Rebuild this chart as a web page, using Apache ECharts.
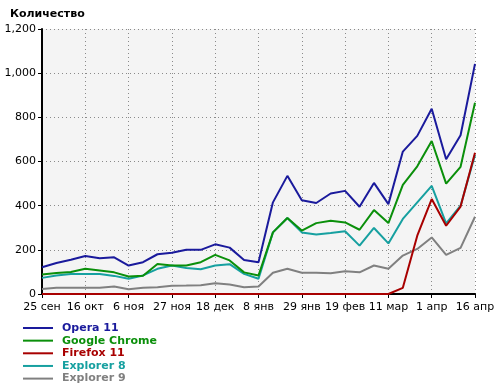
<!DOCTYPE html>
<html>
<head>
<meta charset="utf-8">
<script src="https://cdn.jsdelivr.net/npm/echarts@6/dist/echarts.min.js"></script>
<style>html,body{margin:0;padding:0;background:#fff;}#c{width:500px;height:389px;}</style>
</head>
<body>
<div id="c"></div>
<script>
const categories = ["25 сен","2 окт","9 окт","16 окт","23 окт","30 окт","6 ноя","13 ноя","20 ноя","27 ноя","4 дек","11 дек","18 дек","25 дек","1 янв","8 янв","15 янв","22 янв","29 янв","5 фев","12 фев","19 фев","26 фев","4 мар","11 мар","18 мар","25 мар","1 апр","6 апр","11 апр","16 апр"];
const opera = [121,140,155,172,162,166,129,144,180,187,200,200,225,210,154,144,415,535,425,412,455,467,395,503,407,645,716,839,610,719,1042];
const chrome = [88,95,100,114,106,98,79,83,136,129,129,144,177,152,98,84,279,344,287,321,332,324,291,380,321,494,578,693,500,576,866];
const firefox = [0,0,0,0,0,0,0,0,0,0,0,0,0,0,0,0,0,0,0,0,0,0,0,0,0,28,264,430,309,396,640];
const explorer8 = [73,84,91,91,91,82,69,84,114,129,118,112,129,135,91,69,279,344,279,269,276,284,219,299,229,340,415,490,320,400,630];
const explorer9 = [23,28,28,28,28,34,22,28,31,37,38,40,49,43,31,34,96,114,96,96,94,103,98,129,114,174,204,256,177,209,350];
const yTicks = [0,200,400,600,800,1000,1200];

const FONT = 'DejaVu Sans';
const colors = {
  'Opera 11': '#1a1a9c',
  'Google Chrome': '#0a8f0a',
  'Firefox 11': '#a80000',
  'Explorer 8': '#16a0a0',
  'Explorer 9': '#808080'
};
function ser(name, data) {
  return {
    name: name, type: 'line', data: data, showSymbol: false, symbol: 'none',
    lineStyle: {color: colors[name], width: 2}, itemStyle: {color: colors[name]},
    animation: false
  };
}
const chart = echarts.init(document.getElementById('c'), null, {renderer: 'canvas'});
chart.setOption({
  animation: false,
  backgroundColor: '#ffffff',
  title: {
    text: 'Количество', left: 5, top: 4,
    textStyle: {fontFamily: FONT, fontSize: 11, fontWeight: 'bold', color: '#000'}
  },
  grid: {
    left: 42, right: 25, top: 29, height: 265,
    show: true, backgroundColor: '#f4f4f4', borderWidth: 0
  },
  legend: {
    orient: 'vertical', left: 23, top: 322, height: 67, padding: 0,
    itemWidth: 30, itemHeight: 2, itemGap: 0.65, icon: 'rect',
    textStyle: {fontFamily: FONT, fontSize: 11, fontWeight: 'bold', lineHeight: 12, padding: [0,0,0,4]},
    data: ['Opera 11','Google Chrome','Firefox 11','Explorer 8','Explorer 9'].map(n => ({
      name: n, textStyle: {color: colors[n]}, itemStyle: {color: colors[n]}
    }))
  },
  xAxis: {
    type: 'category', data: categories, boundaryGap: false,
    axisLine: {show: true, lineStyle: {color: '#000', width: 2}},
    axisTick: {show: true, interval: 2, length: 4, lineStyle: {color: '#000', width: 1}},
    axisLabel: {interval: 2, color: '#000', fontFamily: FONT, fontSize: 11, margin: 8},
    splitLine: {show: true, interval: 2, lineStyle: {color: '#8a8a8a', type: [1,3], width: 1}}
  },
  yAxis: {
    type: 'value', min: yTicks[0], max: yTicks[yTicks.length-1], interval: 200,
    axisLine: {show: true, lineStyle: {color: '#000', width: 2}},
    axisTick: {show: true, length: 4, lineStyle: {color: '#000', width: 1}},
    axisLabel: {color: '#000', fontFamily: FONT, fontSize: 11, margin: 6,
      formatter: v => v.toLocaleString('en-US')},
    splitLine: {show: true, lineStyle: {color: '#8a8a8a', type: [1,3], width: 1}}
  },
  series: [
    ser('Explorer 9', explorer9),
    ser('Explorer 8', explorer8),
    ser('Google Chrome', chrome),
    ser('Opera 11', opera),
    ser('Firefox 11', firefox)
  ]
});
</script>
</body>
</html>
